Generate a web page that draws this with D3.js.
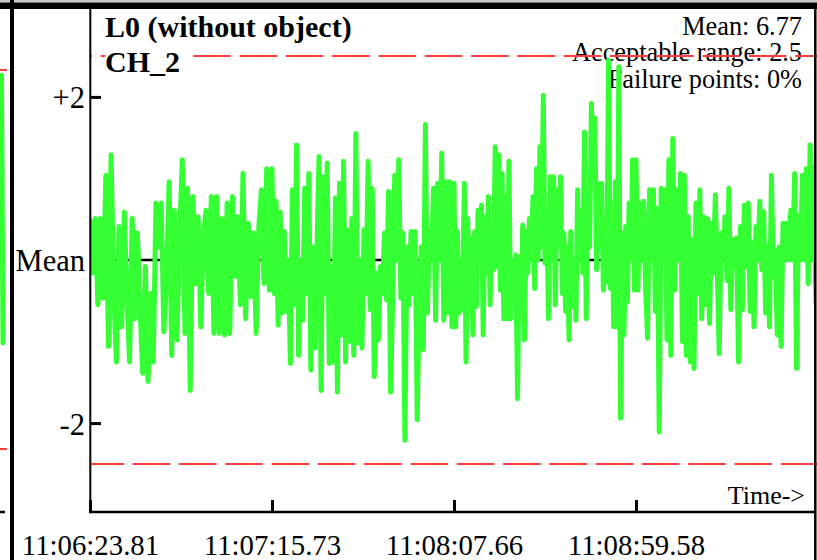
<!DOCTYPE html>
<html><head><meta charset="utf-8">
<script src="https://cdn.jsdelivr.net/npm/d3@7"></script>
<style>html,body{margin:0;padding:0;background:#fff;overflow:hidden}</style>
</head><body><svg id="c" width="817" height="560"></svg>
<script>
// ---- data (deviation from mean) ----
const seg1 = [0.49,-0.16,0.51,-0.55,0.51,-0.47,1.04,-1.06,1.29,-0.37,-1.25,0.41,-0.82,0.59,-0.45,-1.25,0.51,-0.72,0.33,-0.61,-1.39,-0.08,-1.49,-0.41,-1.25,0.70,0.16,0.70,-0.88,-0.25,0.96,-1.17,0.61,-0.98,0.33,1.23,-0.90,0.88,-1.60,0.78,-0.29,0.53,-0.82,0.29,0.61,-0.41,0.78,-0.90,0.78,-0.90,0.51,-0.92,0.70,-0.90,0.78,-0.20,0.53,-0.55,1.06,-0.72,0.45,-0.45,0.33,-0.90,0.41,0.86,-0.29,1.12,-0.37];
const seg2 = [1.12,-0.41,0.72,-0.80,0.59,-0.65,0.35,-0.63,0.00,-1.27,0.86,-0.55,1.41,-1.17,0.00,-0.74,0.88,-0.41,1.06,-1.35,0.16,-1.08,0.16,1.27,-1.60,1.02,-0.41,1.19,-1.27,-0.08,-1.25,0.76,-1.62,0.94,-0.92,1.21,-1.25,0.37,-1.00,0.51,-1.17,1.55,-1.02,0.00,-1.08,0.37,-0.41,1.21,-0.61,0.88,-1.43,-0.16,-0.98,-0.08,-0.41,0.33,-0.49,0.84,-1.62,-0.49,1.04,0.00,1.23,-0.47,0.33,-2.21,0.16,-0.55,0.35,-0.41,0.35,-1.96,-0.49,0.16,-1.10,1.66,-0.65,0.35,0.00,0.88,-0.74,0.94,0.00,1.31,-0.74,0.96,-0.65,0.96,-0.82];
const seg3 = [0.94,-0.82,0.35,-0.65,0.00,-0.61,0.94,-1.25,0.51,-0.65,0.27,-0.92,0.35,-0.57,0.61,0.00,0.67,-0.92,0.53,-0.16,0.78,-0.55,0.33,-0.12,1.39,-0.08,1.29,-0.37,1.06,-0.72,0.78,-0.72,1.21,-0.72,0.00,-0.37,0.06,-1.70,0.04,-0.65,0.43,-0.98,0.35,-0.16,0.51,0.00,0.78,-0.35,1.12,0.00,1.39,0.16,2.02,-0.04,0.61,-0.72,1.02,0.00,1.02,-0.55,0.86,0.16,1.02,-0.41,0.33,-0.63,0.16,-0.98,0.35,-0.57,0.00,-0.74,0.86,0.00,0.59,-0.16,1.57,-0.72,0.82,0.16,1.92,1.23,1.74,-0.12,0.94,0.16,0.94,-0.37,0.16,-0.27,2.45,-0.35,0.70,-0.82,0.96,-0.82,2.37,-1.94,0.33,-0.92,0.41,-0.51,0.70,0.00,1.23,-0.37];
const seg4 = [1.23,-0.37,0.70,0.00,0.72,-0.37,-0.96,0.86,0.00,0.86,-0.63,0.63,-2.11,0.88,0.00,0.86,-0.98,1.23,-1.17,1.49,-0.37,0.86,0.00,1.06,-1.00,1.04,-1.17,0.53,-1.25,0.25,-1.33,0.70,-0.41,0.86,-0.72,0.53,-0.55,0.51,-0.78,0.45,-0.16,0.80,-0.10,-1.15,0.33,0.00,0.53,-0.25,0.88,-0.61,0.25,-0.08,0.27,-1.25,0.41,-0.61,0.67,-0.08,0.70,-0.63,0.22,-0.82,0.41,0.00,0.72,-0.12,0.59,-0.65,0.16,-0.82,1.04,-0.20,0.12,-0.92,0.16,-1.06,0.45,0.00,0.45,0.00,0.61,0.00,1.06,-1.33,0.55,0.00,1.04,0.00,1.12,-0.29,1.41,0.00,1.15,-0.53];
const segStartTimes = [0, 51.92, 103.85, 155.77];   // seconds from 11:06:23.81
const lastSampleTime = 207.1;
const timeDomain = [0, 206.55];
const tickTimes = [0, 51.92, 103.85, 155.77];
const tickLabels = ["11:06:23.81", "11:07:15.73", "11:08:07.66", "11:08:59.58"];
const yTickValues = [2, 0, -2];
const yTickLabels = ["+2", "Mean", "-2"];
const meanValue = 6.77;
const acceptableRange = 2.5;
const failurePct = 0;
const titleLines = ["L0 (without object)", "CH_2"];
const neighborValues = [2.43, -1.10];

// ---- build series ----
const segs = [seg1, seg2, seg3, seg4];
const series = [];
segs.forEach((s, k) => {
  const t0 = segStartTimes[k];
  if (k < 3) {
    const t1 = segStartTimes[k + 1];
    s.forEach((v, j) => series.push({t: t0 + j * (t1 - t0) / s.length, v}));
  } else {
    s.forEach((v, j) => series.push({t: t0 + j * (lastSampleTime - t0) / (s.length - 1), v}));
  }
});

const svg = d3.select("#c");
const serif = "'Liberation Serif','Times New Roman',serif";
const x = d3.scaleLinear().domain(timeDomain).range([90, 814]);
const y = d3.scaleLinear().domain([-3.09, 3.09]).range([512, 8]);

// ---- neighbour panel sliver (left edge) ----
const yN = d3.scaleLinear().domain([-2.5, 2.5]).range([449, 70]);
const xN = d3.scaleLinear().domain([0, 1]).range([1.5, 3]);
[acceptableRange, -acceptableRange].forEach(r => {
  svg.append("line").attr("x1", -5).attr("x2", 7).attr("y1", yN(r)).attr("y2", yN(r))
    .attr("stroke", "#ff3b3b").attr("stroke-width", 2);
});
svg.append("line").attr("x1", -5).attr("x2", 3).attr("y1", yN(0)).attr("y2", yN(0))
  .attr("stroke", "#000").attr("stroke-width", 3);
svg.append("line").attr("x1", -5).attr("x2", 5).attr("y1", 512).attr("y2", 512)
  .attr("stroke", "#000").attr("stroke-width", 2.5);
svg.append("path").datum(neighborValues)
  .attr("d", d3.line().x((d, i) => xN(i)).y(d => yN(d)))
  .attr("fill", "none").attr("stroke", "#33ff33").attr("stroke-width", 5).attr("stroke-linecap", "round");

// ---- stats text (under red line and trace) ----
const stats = [`Mean: ${meanValue}`, `Acceptable range: ${acceptableRange}`, `Failure points: ${failurePct}%`];
svg.append("g").selectAll("text").data(stats).join("text")
  .attr("x", 802).attr("y", (d, i) => 35 + i * 26.3)
  .attr("text-anchor", "end").attr("font-family", serif).attr("font-size", 26.3).attr("fill", "#000")
  .text(d => d);

// ---- mean line ----
svg.append("line").attr("x1", x(timeDomain[0])).attr("x2", x(timeDomain[1]))
  .attr("y1", y(0)).attr("y2", y(0)).attr("stroke", "#000").attr("stroke-width", 2.5);

// ---- acceptable range lines ----
const dashOffsets = [35.6, 3.6];
[acceptableRange, -acceptableRange].forEach((r, i) => {
  svg.append("line").attr("x1", 90).attr("x2", 817).attr("y1", y(r)).attr("y2", y(r))
    .attr("stroke", "#ff3b3b").attr("stroke-width", 2)
    .attr("stroke-dasharray", "37.5,8.8").attr("stroke-dashoffset", dashOffsets[i]);
});

// ---- trace ----
svg.append("clipPath").attr("id", "clip").append("rect")
  .attr("x", 90).attr("y", 0).attr("width", 724).attr("height", 560);
svg.append("path").datum(series)
  .attr("clip-path", "url(#clip)")
  .attr("d", d3.line().x(d => x(d.t)).y(d => y(d.v)))
  .attr("fill", "none").attr("stroke", "#33ff33").attr("stroke-width", 5)
  .attr("stroke-linejoin", "round").attr("stroke-linecap", "round");

// ---- title with white background ----
titleLines.forEach((t, i) => {
  const g = svg.append("g");
  const bg = g.append("rect").attr("fill", "#fff");
  const tx = g.append("text").attr("x", 105).attr("y", 37 + i * 34.5)
    .attr("font-family", serif).attr("font-weight", "bold").attr("font-size", 30).attr("fill", "#000").text(t);
  const bb = tx.node().getBBox();
  bg.attr("x", bb.x).attr("y", bb.y + 4).attr("width", bb.width + 8).attr("height", bb.height - 6);
});

// ---- axes ----
const xAxis = d3.axisBottom(x).tickValues(tickTimes).tickFormat((d, i) => tickLabels[i]).tickSize(0).tickPadding(0);
const gx = svg.append("g").attr("transform", "translate(0,512)").call(xAxis);
gx.select(".domain").remove();
gx.selectAll(".tick line").remove();
gx.selectAll(".tick").append("line").attr("x1", 0).attr("x2", 0).attr("y1", 0).attr("y2", -12)
  .attr("stroke", "#000").attr("stroke-width", 3);
gx.selectAll(".tick text").attr("y", 43).attr("dy", 0).attr("font-family", serif).attr("font-size", 28.8).attr("fill", "#000");

const yAxis = d3.axisLeft(y).tickValues(yTickValues).tickFormat((d, i) => yTickLabels[i]).tickSize(0).tickPadding(0);
const gy = svg.append("g").attr("transform", "translate(90,0)").call(yAxis);
gy.select(".domain").remove();
gy.selectAll(".tick line").remove();
gy.selectAll(".tick").filter(d => d !== 0).append("line").attr("x1", 0).attr("x2", 11).attr("y1", 0).attr("y2", 0)
  .attr("stroke", "#000").attr("stroke-width", 3);
gy.selectAll(".tick text").attr("x", -5).attr("dy", "0.36em").attr("font-family", serif).attr("font-size", 30.5).attr("fill", "#000");

// frame lines
svg.append("line").attr("x1", 90.3).attr("x2", 90.3).attr("y1", 9).attr("y2", 513).attr("stroke", "#000").attr("stroke-width", 2);
svg.append("line").attr("x1", 89).attr("x2", 816).attr("y1", 512).attr("y2", 512).attr("stroke", "#000").attr("stroke-width", 2.5);
svg.append("line").attr("x1", 815.3).attr("x2", 815.3).attr("y1", 9).attr("y2", 560).attr("stroke", "#000").attr("stroke-width", 2.5);

svg.append("text").attr("x", 805).attr("y", 504).attr("text-anchor", "end")
  .attr("font-family", serif).attr("font-size", 26).attr("fill", "#000").text("Time->");

// panel separators
svg.append("rect").attr("x", 0).attr("y", 0).attr("width", 817).attr("height", 2.5).attr("fill", "#c8c8c8");
svg.append("rect").attr("x", 0).attr("y", 2.5).attr("width", 817).attr("height", 6.5).attr("fill", "#000");
svg.append("rect").attr("x", 10).attr("y", 0).attr("width", 4).attr("height", 560).attr("fill", "#000");
</script></body></html>
